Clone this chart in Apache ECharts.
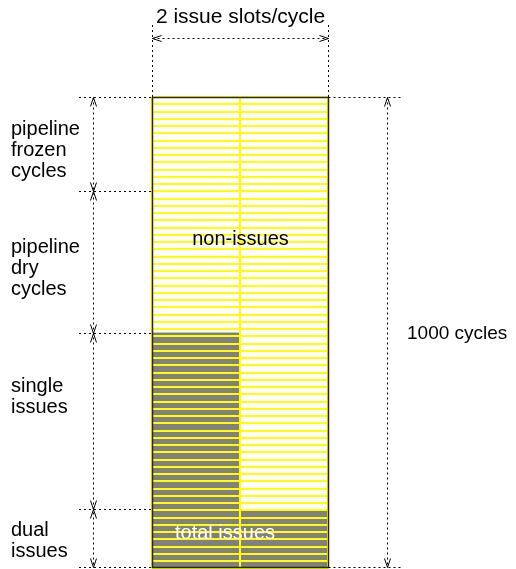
<!doctype html>
<html>
<head>
<meta charset="utf-8">
<title>issue slots</title>
<script src="https://cdn.jsdelivr.net/npm/echarts@6/dist/echarts.min.js"></script>
<style>
  html, body { margin: 0; padding: 0; background: #fff; }
  #main { width: 516px; height: 569px; }
</style>
</head>
<body>
<div id="main"></div>
<script>
// data
var slotNames = ['slot 1', 'slot 2'];
var issuedCycles = [500, 125];          // cycles in which each slot issues
var totalCycles = 1000;
var stripeCount = 65;                   // yellow stripes over the column
var phaseLabels = ['pipeline\nfrozen\ncycles', 'pipeline\ndry\ncycles', 'single\nissues', 'dual\nissues'];
var phaseCycles = [200, 300, 375, 125]; // top to bottom

var font = '"Liberation Sans", Arial, Helvetica, sans-serif';
var chart = echarts.init(document.getElementById('main'));

chart.setOption({
  animation: false,
  backgroundColor: '#fff',
  grid: { left: 152, right: 188, top: 97, bottom: 1 },
  xAxis: [{
    type: 'category',
    data: slotNames,
    boundaryGap: true,
    axisLine: { show: false },
    axisTick: { show: false },
    axisLabel: { show: false },
    splitLine: { show: true, interval: 0, lineStyle: { color: '#ffff00', width: 2 } },
    z: 10
  }, {
    type: 'value', min: 0, max: slotNames.length, show: false
  }],
  yAxis: [{
    type: 'value', min: 0, max: totalCycles,
    axisLine: { show: false }, axisTick: { show: false },
    axisLabel: { show: false }, splitLine: { show: false }
  }, {
    type: 'value', min: 0, max: stripeCount, interval: 1,
    axisLine: { show: false }, axisTick: { show: false },
    axisLabel: { show: false },
    splitLine: { show: true, lineStyle: { color: '#ffff00', width: 2 } },
    z: 10
  }],
  series: [{
    name: 'issues',
    type: 'bar',
    xAxisIndex: 0,
    yAxisIndex: 0,
    data: issuedCycles,
    barWidth: '100%',
    barCategoryGap: '0%',
    itemStyle: { color: '#808080' },
    silent: true
  }]
});

// annotations, placed from the axes
function yPix(c) { return chart.convertToPixel({ yAxisIndex: 0 }, c); }
function xPix(s) { return chart.convertToPixel({ xAxisIndex: 1 }, s); }
function r(v) { return Math.round(v) + 0.5; }

var g = [];
var dot = { stroke: '#000', lineWidth: 1, lineDash: [2, 3] };
function dline(x1, y1, x2, y2) {
  g.push({ type: 'line', shape: { x1: x1, y1: y1, x2: x2, y2: y2 }, style: dot, z: 50, silent: true });
}
function chev(x, y, dir) {
  var L = 9, w = 3, pts;
  if (dir === 'up') pts = [[x - w, y + L], [x, y], [x + w, y + L]];
  if (dir === 'down') pts = [[x - w, y - L], [x, y], [x + w, y - L]];
  if (dir === 'left') pts = [[x + L, y - w], [x, y], [x + L, y + w]];
  if (dir === 'right') pts = [[x - L, y - w], [x, y], [x - L, y + w]];
  g.push({ type: 'polyline', shape: { points: pts }, style: { stroke: '#000', lineWidth: 1, fill: null }, z: 50, silent: true });
}
function text(t, x, y, opts) {
  g.push({
    type: 'text', x: x, y: y, z: 60, silent: true,
    style: Object.assign({
      text: t, font: '20px ' + font, fill: '#000',
      align: 'left', verticalAlign: 'middle', lineHeight: 21
    }, opts || {})
  });
}

var xl = r(xPix(0)), xr = r(xPix(slotNames.length));
var bounds = [totalCycles];
phaseCycles.forEach(function (c, i) { bounds.push(bounds[i] - c); });
var by = bounds.map(function (c) { return r(yPix(c)); });
var yTop = by[0], yBot = by[by.length - 1] - 1;
by[by.length - 1] = yBot;

// column frame
g.push({ type: 'rect', shape: { x: xl, y: yTop, width: xr - xl, height: yBot - yTop },
  style: { stroke: '#2a2a00', lineWidth: 1.5, fill: null }, z: 40, silent: true });

// top dimension: issue slots
var yArr = 38.5;
dline(xl, 25, xl, yTop);
dline(xr, 25, xr, yTop);
dline(xl, yArr, xr, yArr);
chev(xl, yArr, 'left');
chev(xr, yArr, 'right');
text('2 issue slots/cycle', (xl + xr) / 2, 17, { align: 'center', font: '21px ' + font });

// left dimension: phases
var xLeft = 93.5;
by.forEach(function (y) { dline(79, y, xl, y); });
dline(xLeft, yTop, xLeft, yBot);
by.forEach(function (y, i) {
  if (i > 0) chev(xLeft, y, 'down');
  if (i < by.length - 1) chev(xLeft, y, 'up');
});
var labelMid = [150, 268, 397, 541];
phaseLabels.forEach(function (t, i) { text(t, 11, labelMid[i]); });

// right dimension: total cycles
var xRight = 387.5;
dline(xr, yTop, 402, yTop);
dline(xr, yBot, 402, yBot);
dline(xRight, yTop, xRight, yBot);
chev(xRight, yTop, 'up');
chev(xRight, yBot, 'down');
text(totalCycles + ' cycles', 407, 334, { font: '19px ' + font });

// inside labels
text('non-issues', (xl + xr) / 2, 239, { align: 'center' });
text('total issues', 225, 533, { align: 'center', fill: '#fff' });

chart.setOption({ graphic: g });
</script>
</body>
</html>
